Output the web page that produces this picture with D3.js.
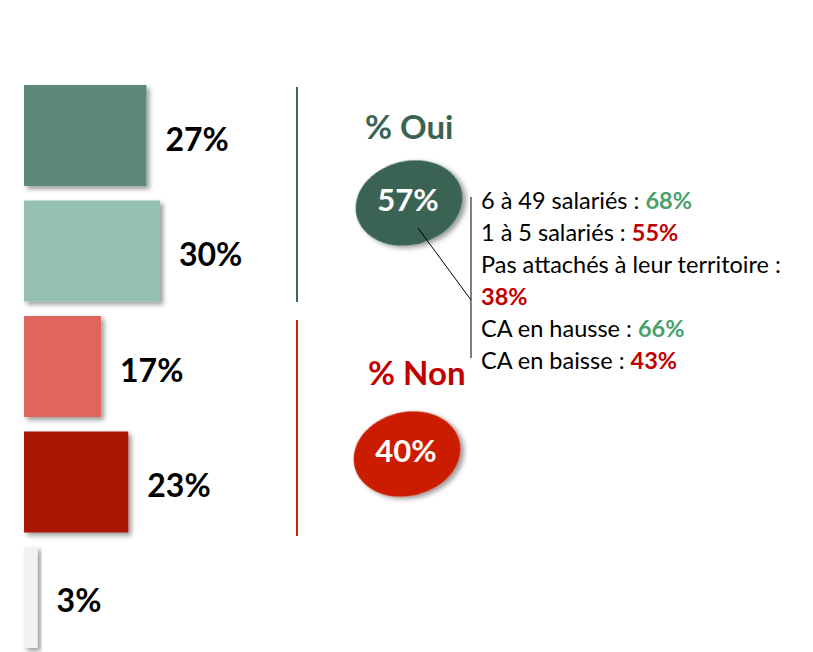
<!DOCTYPE html>
<html>
<head>
<meta charset="utf-8">
<script src="https://cdn.jsdelivr.net/npm/d3@7"></script>
<style>
  body { margin: 0; background: #fff; }
  text { font-family: Lato, "Open Sans", sans-serif; }
</style>
</head>
<body>
<div class="chart"></div>
<script>
const w = 813;
const h = 652;

// bar values (%)
const barValues = [27, 30, 17, 23, 3];
const barColors = ["#5b897a", "#95c0b0", "#e0655f", "#aa1600", "#f2f2f2"];

// totals
const groupLabels = ["% Oui", "% Non"];
const groupValues = [57, 40];
const groupColors = ["#3a6353", "#cc1f00"];
const groupTitleColors = ["#3a6353", "#c00000"];

// details
const detailLabels = ["6 à 49 salariés : ", "1 à 5 salariés : ", "Pas attachés à leur territoire : ", "CA en hausse : ", "CA en baisse : "];
const detailValues = [68, 55, 38, 66, 43];
const detailTrend = ["up", "down", "down", "up", "down"];
const trendColor = { up: "#4aa06c", down: "#c00000" };

const svg = d3.select(".chart")
    .append("svg")
    .attr("width", w)
    .attr("height", h)

const defs = svg.append("defs");
defs.append("filter")
    .attr("id", "shadow")
    .attr("x", "-20%").attr("y", "-20%")
    .attr("width", "150%").attr("height", "150%")
    .append("feDropShadow")
    .attr("dx", 3).attr("dy", 3)
    .attr("stdDeviation", 2.5)
    .attr("flood-color", "#000")
    .attr("flood-opacity", 0.4);

const x = d3.scaleLinear().domain([0, 30]).range([24, 160]);
const y = d3.scaleBand()
    .domain(d3.range(barValues.length))
    .range([85, 648])
    .paddingInner(0.1255)
    .paddingOuter(0);

const bars = svg.append("g").selectAll("g")
    .data(barValues)
    .enter()
    .append("g");

bars.append("rect")
    .attr("x", x(0))
    .attr("y", (d, i) => y(i))
    .attr("width", (d) => x(d) - x(0))
    .attr("height", y.bandwidth())
    .attr("fill", (d, i) => barColors[i])
    .attr("filter", "url(#shadow)");

bars.append("text")
    .attr("x", (d) => x(d) + 19)
    .attr("y", (d, i) => y(i) + y.bandwidth() / 2 + 15)
    .text((d) => d + "%")
    .style("font-size", "32px")
    .style("font-weight", "bold")
    .attr("fill", "#000");

// separators
svg.append("line")
    .attr("x1", 297).attr("x2", 297)
    .attr("y1", 87).attr("y2", 302)
    .attr("stroke", "#3a6a5a").attr("stroke-width", 2);
svg.append("line")
    .attr("x1", 297).attr("x2", 297)
    .attr("y1", 320).attr("y2", 536)
    .attr("stroke", "#cc2200").attr("stroke-width", 2);

// groups
const groupPos = [{ tx: 365, ty: 139, cx: 409, cy: 203 }, { tx: 368, ty: 385, cx: 407, cy: 454 }];

const groups = svg.append("g").selectAll("g")
    .data(groupValues)
    .enter()
    .append("g");

groups.append("text")
    .attr("x", (d, i) => groupPos[i].tx)
    .attr("y", (d, i) => groupPos[i].ty)
    .text((d, i) => groupLabels[i])
    .style("font-size", "33px")
    .style("font-weight", "bold")
    .attr("fill", (d, i) => groupTitleColors[i]);

groups.append("ellipse")
    .attr("cx", (d, i) => groupPos[i].cx)
    .attr("cy", (d, i) => groupPos[i].cy)
    .attr("rx", 54)
    .attr("ry", 42)
    .attr("transform", (d, i) => `rotate(-14 ${groupPos[i].cx} ${groupPos[i].cy})`)
    .attr("fill", (d, i) => groupColors[i])
    .attr("filter", "url(#shadow)");

groups.append("text")
    .attr("x", (d, i) => groupPos[i].cx - 1)
    .attr("y", (d, i) => groupPos[i].cy + 8)
    .attr("text-anchor", "middle")
    .text((d) => d + "%")
    .style("font-size", "31px")
    .style("font-weight", "bold")
    .attr("fill", "#fff");

// connector
svg.append("line")
    .attr("x1", 418).attr("y1", 228)
    .attr("x2", 471).attr("y2", 300)
    .attr("stroke", "#000").attr("stroke-width", 1);
svg.append("line")
    .attr("x1", 471).attr("y1", 197)
    .attr("x2", 471).attr("y2", 358)
    .attr("stroke", "#000").attr("stroke-width", 1);

// details list
const detailX = 481;
const lineH = 32;
const maxW = w - detailX - 8;
const details = svg.append("text")
    .style("font-size", "23.5px")
    .attr("fill", "#000");

let line = 0;
detailLabels.forEach(function (label, i) {
    const t1 = details.append("tspan")
        .attr("x", detailX)
        .attr("y", 209 + line * lineH)
        .text(label);
    const t2 = details.append("tspan")
        .text(detailValues[i] + "%")
        .style("font-weight", "bold")
        .attr("fill", trendColor[detailTrend[i]]);
    const total = t1.node().getComputedTextLength() + t2.node().getComputedTextLength();
    if (total > maxW) {
        line++;
        t2.attr("x", detailX).attr("y", 209 + line * lineH);
    }
    line++;
});
</script>
</body>
</html>
